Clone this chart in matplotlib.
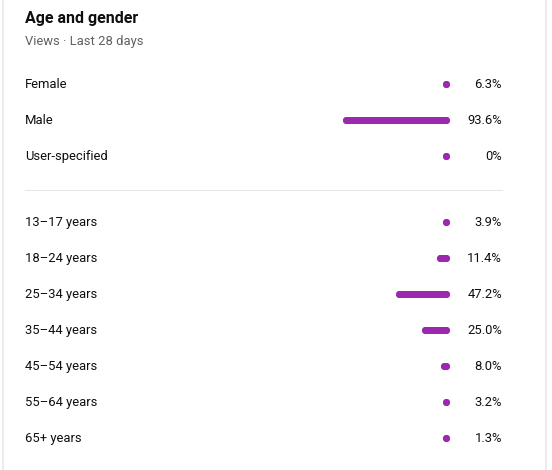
import matplotlib
matplotlib.use("Agg")
import matplotlib.pyplot as plt

title = "Age and gender"
subtitle = "Views · Last 28 days"
gender_labels = ["Female", "Male", "User-specified"]
gender_values = [6.3, 93.6, 0.0]
gender_texts = ["6.3%", "93.6%", "0%"]
age_labels = ["13–17 years", "18–24 years", "25–34 years", "35–44 years",
              "45–54 years", "55–64 years", "65+ years"]
age_values = [3.9, 11.4, 47.2, 25.0, 8.0, 3.2, 1.3]
age_texts = ["3.9%", "11.4%", "47.2%", "25.0%", "8.0%", "3.2%", "1.3%"]

W, H = 552, 470
DPI = 100
fig = plt.figure(figsize=(W / DPI, H / DPI), dpi=DPI)
ax = fig.add_axes([0, 0, 1, 1])
ax.set_xlim(0, W)
ax.set_ylim(H, 0)
ax.axis("off")

plt.rcParams['font.family'] = ['Roboto', 'DejaVu Sans']
PX = 72 / DPI  # points per pixel

text_col = "#0f0f0f"
grey = "#606060"
bar_col = "#9c27b0"
border = "#e5e5e5"

# card borders
ax.plot([2.5, 2.5], [0, H], color=border, lw=1.5 * PX)
ax.plot([545.5, 545.5], [0, H], color=border, lw=1.5 * PX)

ax.text(25, 19, title, fontsize=16 * PX, fontweight="bold", color=text_col,
        va="center", ha="left")
ax.text(25, 41.5, subtitle, fontsize=13 * PX, color=grey, va="center", ha="left")

BAR_RIGHT = 449.5
SCALE = 1.14
THICK = 7


def draw_row(y, label, value, txt):
    ax.text(25, y + 0.5, label, fontsize=13 * PX, color=text_col, va="center", ha="left")
    ax.text(502, y + 0.5, txt, fontsize=13 * PX, color=text_col, va="center", ha="right")
    length = max(THICK, value * SCALE)
    x1 = BAR_RIGHT - THICK / 2
    x0 = BAR_RIGHT - length + THICK / 2
    ax.plot([x0, x1], [y, y], color=bar_col, lw=THICK * PX,
            solid_capstyle="round", marker="o", markersize=THICK * PX,
            markeredgewidth=0, markerfacecolor=bar_col)


y0 = 84
for i, (l, v, t) in enumerate(zip(gender_labels, gender_values, gender_texts)):
    draw_row(y0 + 36 * i, l, v, t)

ax.plot([25, 502], [189.5, 189.5], color=border, lw=1 * PX)

y1 = 222
for i, (l, v, t) in enumerate(zip(age_labels, age_values, age_texts)):
    draw_row(y1 + 36 * i, l, v, t)

fig.savefig("out.png", dpi=DPI, facecolor="white")
